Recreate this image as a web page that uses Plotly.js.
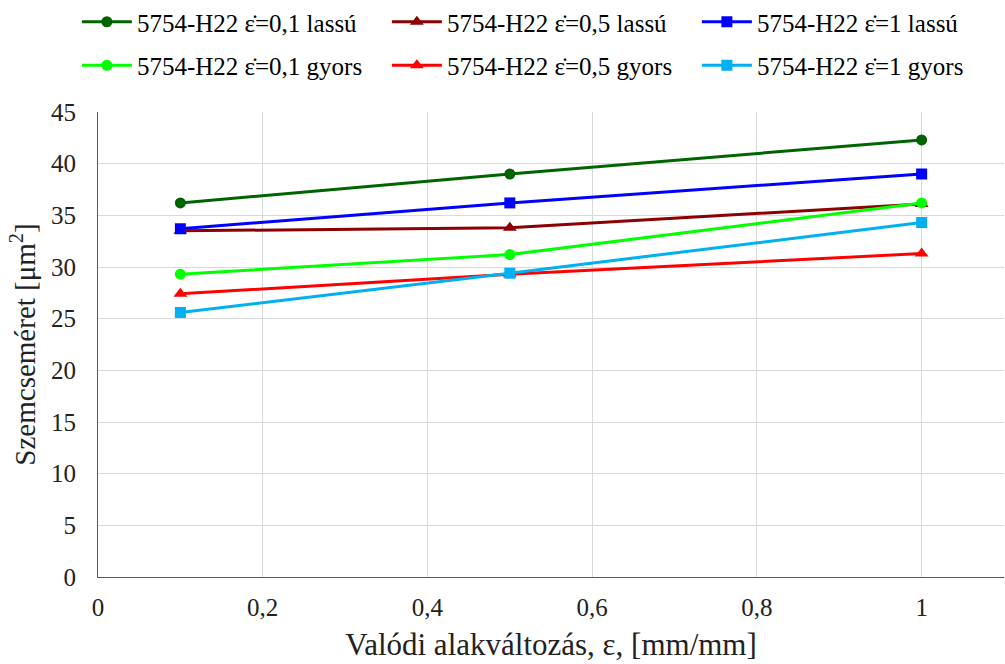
<!DOCTYPE html>
<html>
<head>
<meta charset="utf-8">
<script src="https://cdn.plot.ly/plotly-3.0.1.min.js"></script>
<style>html,body{margin:0;padding:0;background:#fff;}#chart{width:1005px;height:664px;}</style>
</head>
<body>
<div id="chart"></div>
<script>
const strain = [0.1, 0.5, 1];
const seriesNames = [
  "5754-H22 ε̇=0,1 lassú",
  "5754-H22 ε̇=0,5 lassú",
  "5754-H22 ε̇=1 lassú",
  "5754-H22 ε̇=0,1 gyors",
  "5754-H22 ε̇=0,5 gyors",
  "5754-H22 ε̇=1 gyors"
];
const slow01 = [36.2, 39.0, 42.3];
const slow05 = [33.5, 33.8, 36.1];
const slow1 = [33.7, 36.2, 39.0];
const fast01 = [29.3, 31.2, 36.2];
const fast05 = [27.4, 29.3, 31.3];
const fast1 = [25.6, 29.4, 34.3];
const seriesValues = [slow01, slow05, slow1, fast01, fast05, fast1];
const colors = ["#006400", "#8b0000", "#0000ff", "#00ff00", "#ff0000", "#00b0f0"];
const symbols = ["circle", "triangle-up", "square", "circle", "triangle-up", "square"];

const traces = seriesNames.map((n, i) => ({
  x: strain, y: seriesValues[i], name: n, type: "scatter", mode: "lines+markers",
  legend: i < 3 ? "legend" : "legend2",
  line: {color: colors[i], width: 3},
  marker: {color: colors[i], symbol: symbols[i], size: symbols[i] === "triangle-up" ? 12 : 11}
}));

const font = "Liberation Serif";
const txt = "#222222";
const legendBase = {orientation: "h", x: -0.0233, xanchor: "left", yanchor: "top",
  entrywidth: 245, entrywidthmode: "pixels", itemwidth: 50,
  font: {family: font, size: 25, color: "#000"}, bgcolor: "rgba(0,0,0,0)"};
const layout = {
  width: 1005, height: 664,
  margin: {l: 98, r: 1, t: 112, b: 87, autoexpand: false},
  paper_bgcolor: "#fff", plot_bgcolor: "#fff",
  separators: ", ",
  font: {family: font, size: 25, color: txt},
  showlegend: true,
  legend: Object.assign({}, legendBase, {y: 1.243}),
  legend2: Object.assign({}, legendBase, {y: 1.1493}),
  xaxis: {range: [0, 1.1], dtick: 0.2, tick0: 0, showgrid: true, gridcolor: "#d9d9d9", gridwidth: 1,
    zeroline: false, showline: true, linecolor: "#595959", linewidth: 1, ticks: "",
    ticklabelstandoff: 8,
    tickfont: {family: font, size: 25, color: txt},
    title: {text: "Valódi alakváltozás, ε, [mm/mm]", font: {family: font, size: 31, color: txt}, standoff: 13}},
  yaxis: {range: [0, 45], dtick: 5, showgrid: true, gridcolor: "#d9d9d9", gridwidth: 1,
    zeroline: false, showline: true, linecolor: "#595959", linewidth: 1, ticks: "",
    ticklabelstandoff: 16,
    tickfont: {family: font, size: 25, color: txt},
    title: {text: "Szemcseméret [μm<sup>2</sup>]", font: {family: font, size: 29, color: txt}, standoff: 6}}
};
Plotly.newPlot("chart", traces, layout, {displayModeBar: false, staticPlot: true});
</script>
</body>
</html>
